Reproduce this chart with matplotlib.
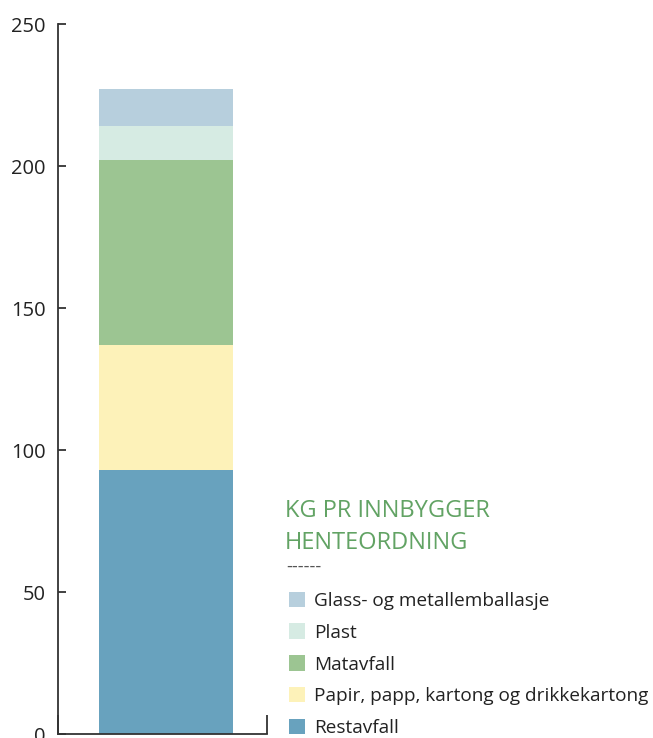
import matplotlib.pyplot as plt

# Data (kg per inhabitant)
categories = ["Restavfall", "Papir, papp, kartong og drikkekartong", "Matavfall", "Plast",
              "Glass- og metallemballasje"]
values = [93, 44, 65, 12, 13]
colors = ["#68a2be", "#fdf2b9", "#9cc592", "#d6ebe3", "#b7cfdd"]
y_ticks = [0, 50, 100, 150, 200, 250]

plt.rcParams['font.family'] = ['Open Sans', 'DejaVu Sans']

fig = plt.figure(figsize=(6.53, 7.38), dpi=100)
ax = fig.add_axes([58 / 653, 4 / 738, 209 / 653, 710 / 738])

bottom = 0
handles = []
for cat, val, col in zip(categories, values, colors):
    b = ax.bar(0, val, width=0.641, bottom=bottom, color=col, label=cat, linewidth=0)
    handles.append(b)
    bottom += val

ax.set_xlim(-0.517, 0.483)
ax.set_ylim(0, 250)
ax.set_yticks(y_ticks)
ax.set_xticks([-0.517, 0.483])
ax.set_xticklabels(["", ""])
ax.tick_params(axis='y', direction='in', length=6, width=1.3, colors='#333333',
               labelcolor='#222222', labelsize=14.5, pad=9)
ax.tick_params(axis='x', direction='in', length=14, width=1.3, colors='#333333')
for side in ['top', 'right']:
    ax.spines[side].set_visible(False)
for side in ['left', 'bottom']:
    ax.spines[side].set_color('#333333')
    ax.spines[side].set_linewidth(1.3)
    ax.spines[side].set_clip_on(False)

# legend block
fig.text(285 / 653, 1 - 527 / 738, "KG PR INNBYGGER\nHENTEORDNING", color='#62a364',
         fontsize=17, va='center', ha='left', linespacing=1.4)
fig.text(286 / 653, 1 - 567 / 738, "------", color='#555555', fontsize=13, va='center', ha='left')

fig.legend(handles=handles[::-1], labels=categories[::-1], loc='upper left',
           bbox_to_anchor=(281 / 653, 1 - 584 / 738), frameon=False, fontsize=13.7,
           handlelength=0.85, handleheight=0.85, handletextpad=0.5, labelspacing=0.72,
           labelcolor='#222222', borderaxespad=0)

fig.savefig("out.png", dpi=100)
